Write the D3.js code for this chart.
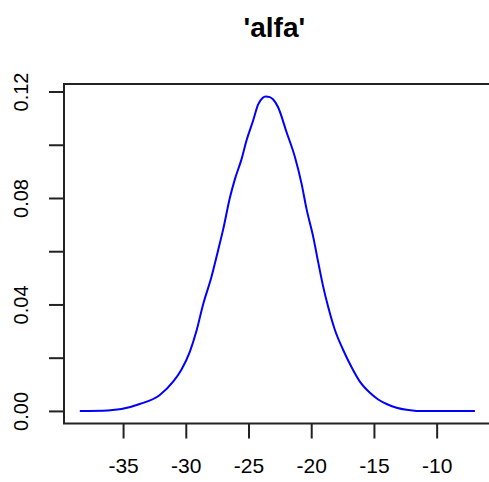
<!DOCTYPE html>
<html>
<head>
<meta charset="utf-8">
<title>'alfa'</title>
<style>
  body { margin: 0; background: #fff; }
  svg { display: block; font-family: "Liberation Sans", Arial, sans-serif; }
  .frame { fill: none; stroke: #222; stroke-width: 2; }
  .dens { fill: none; stroke: #0000ff; stroke-width: 2; }
  .tick line { stroke: #222; stroke-width: 2; }
</style>
</head>
<body>
<svg id="chart" width="489" height="482"></svg>
<script src="https://d3js.org/d3.v7.min.js"></script>
<script>
  // density estimate
  const alfaX = [-38.45, -36.2, -35.13, -33.67, -32.07, -31.01, -30.34, -29.68, -29.14,
    -28.62, -27.95, -27.42, -27.02, -26.49, -26.09, -25.56, -25.16, -24.63, -24.23,
    -23.9, -23.62, -23.3, -23.03, -22.64, -21.97, -21.3, -20.77, -20.37, -19.84,
    -19.44, -19.05, -18.65, -18.11, -17.45, -16.78, -16.12, -15.32, -14.66, -13.9,
    -13.19, -12.4, -11.59, -9.5, -6.95];
  const alfaY = [0.0, 0.0002, 0.0007, 0.0026, 0.006, 0.011, 0.0156, 0.0222, 0.0302,
    0.0400, 0.0504, 0.0604, 0.0682, 0.0800, 0.0870, 0.0945, 0.1016, 0.1091, 0.1152,
    0.1175, 0.1181, 0.1179, 0.1170, 0.1141, 0.1048, 0.0954, 0.0854, 0.0758, 0.0654,
    0.0558, 0.0468, 0.0391, 0.0304, 0.0229, 0.0164, 0.0110, 0.0068, 0.0043, 0.0024,
    0.0012, 0.0004, 0.0, 0.0, 0.0];
  const xTicks = [-35, -30, -25, -20, -15, -10];
  const yTicks = [0, 0.02, 0.04, 0.06, 0.08, 0.10, 0.12];
  const yLabelled = [0, 0.04, 0.08, 0.12];
  const title = "'alfa'";

  const svg = d3.select("#chart");
  const pLeft = 64, pRight = 490.7, pTop = 84, pBottom = 423.5;

  // R style 4% padding round the data
  const xr = d3.extent(alfaX), yr = d3.extent(alfaY);
  const xp = (xr[1] - xr[0]) * 0.04, yp = (yr[1] - yr[0]) * 0.04;
  const x = d3.scaleLinear().domain([xr[0] - xp, xr[1] + xp]).range([pLeft, pRight]);
  const y = d3.scaleLinear().domain([yr[0] - yp, yr[1] + yp]).range([pBottom, pTop]);

  svg.append("text")
    .attr("x", (pLeft + pRight) / 2 - 3).attr("y", 37)
    .attr("text-anchor", "middle")
    .attr("font-size", 28).attr("font-weight", "bold")
    .text(title);

  const line = d3.line().curve(d3.curveMonotoneX)
    .x((d, i) => x(alfaX[i])).y(d => y(d));
  svg.append("path").attr("class", "dens").attr("d", line(alfaY));

  svg.append("rect").attr("class", "frame")
    .attr("x", pLeft).attr("y", pTop)
    .attr("width", pRight - pLeft).attr("height", pBottom - pTop);

  const xAxis = svg.append("g")
    .attr("transform", `translate(0,${pBottom})`)
    .call(d3.axisBottom(x).tickValues(xTicks).tickSize(15).tickPadding(20).tickFormat(d => String(d)));
  xAxis.select(".domain").remove();
  xAxis.selectAll("text").attr("font-size", 21).attr("fill", "#000").attr("font-family", null);

  const yAxis = svg.append("g")
    .attr("transform", `translate(${pLeft},0)`)
    .call(d3.axisLeft(y).tickValues(yTicks).tickSize(15)
      .tickFormat(d => yLabelled.some(v => Math.abs(v - d) < 1e-9) ? d3.format(".2f")(d) : ""));
  yAxis.select(".domain").remove();
  yAxis.selectAll("text")
    .attr("font-size", 20).attr("fill", "#000").attr("font-family", null)
    .attr("text-anchor", "middle")
    .attr("x", null).attr("dy", null)
    .attr("transform", "translate(-36,0) rotate(-90)");
</script>
</body>
</html>
